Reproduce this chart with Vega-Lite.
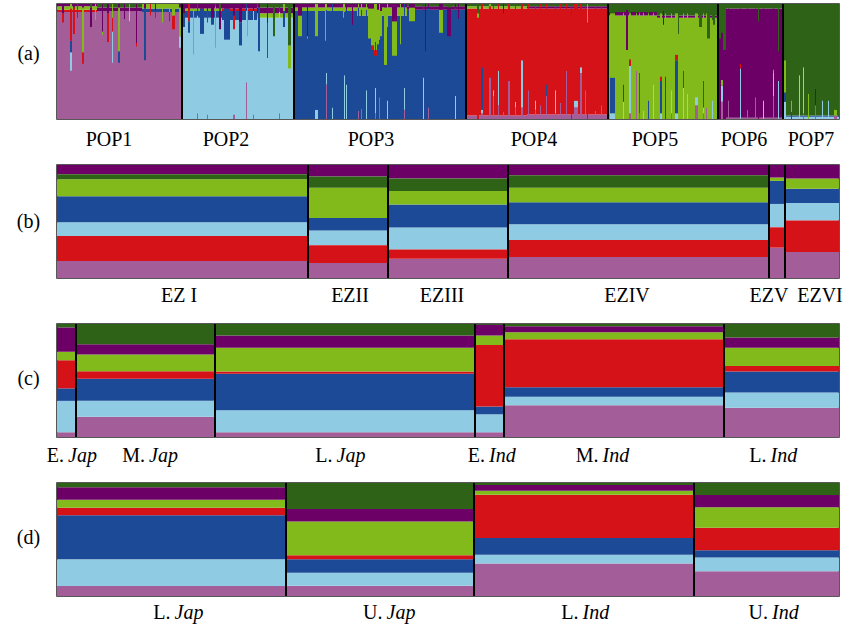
{
"$schema": "https://vega.github.io/schema/vega-lite/v6.json",
"padding": {"left": 15, "top": 2, "right": 4, "bottom": 4},
"background": "white",
"bounds": "flush",
"spacing": 46,
"config": {"view": {"stroke": "#222", "strokeWidth": 1.5}},
"datasets": {
"pops": [
{"p":"POP1","x":0,"x2":125,"lx":52},
{"p":"POP2","x":125,"x2":237,"lx":169},
{"p":"POP3","x":237,"x2":409,"lx":314},
{"p":"POP4","x":409,"x2":551,"lx":477},
{"p":"POP5","x":551,"x2":661,"lx":598},
{"p":"POP6","x":661,"x2":726,"lx":687},
{"p":"POP7","x":726,"x2":782,"lx":754}
],
"a_base": [
{"x":0,"x2":40,"K1":0.93,"K4":0.02,"K5":0.03,"K6":0.02},
{"x":40,"x2":85,"K1":0.94,"K6":0.03,"K7":0.03},
{"x":85,"x2":125,"K1":0.93,"K3":0.03,"K5":0.04},
{"x":125,"x2":165,"K2":0.88,"K3":0.06,"K5":0.02,"K6":0.04},
{"x":165,"x2":200,"K2":0.86,"K3":0.08,"K4":0.02,"K6":0.04},
{"x":200,"x2":237,"K2":0.88,"K5":0.04,"K6":0.05,"K7":0.03},
{"x":237,"x2":300,"K3":0.94,"K5":0.03,"K6":0.03},
{"x":300,"x2":350,"K3":0.90,"K5":0.07,"K6":0.03},
{"x":350,"x2":409,"K3":0.95,"K6":0.03,"K7":0.02},
{"x":409,"x2":470,"K1":0.03,"K4":0.93,"K5":0.02,"K7":0.02},
{"x":470,"x2":551,"K1":0.04,"K4":0.92,"K6":0.02,"K7":0.02},
{"x":551,"x2":600,"K5":0.90,"K6":0.03,"K7":0.07},
{"x":600,"x2":661,"K5":0.88,"K6":0.02,"K7":0.10},
{"x":661,"x2":726,"K1":0.01,"K6":0.95,"K7":0.04},
{"x":726,"x2":782,"K2":0.02,"K3":0.01,"K7":0.97}
],
"a_ind": [
{"x":5,"x2":7,"K1":0.84,"K4":0.08,"K6":0.08},
{"x":13,"x2":15,"K1":0.42,"K2":0.16,"K3":0.10,"K4":0.28,"K5":0.04},
{"x":16,"x2":18,"K1":0.74,"K4":0.23,"K6":0.03},
{"x":20,"x2":21,"K1":0.88,"K7":0.12},
{"x":25,"x2":27,"K1":0.48,"K4":0.10,"K5":0.39,"K6":0.03},
{"x":33,"x2":35,"K1":0.80,"K6":0.17,"K7":0.03},
{"x":38,"x2":39,"K1":0.86,"K5":0.14},
{"x":45,"x2":46,"K1":0.73,"K5":0.03,"K6":0.24},
{"x":50,"x2":52,"K1":0.67,"K4":0.25,"K6":0.08},
{"x":55,"x2":56,"K1":0.49,"K2":0.27,"K4":0.12,"K5":0.12},
{"x":61,"x2":63,"K1":0.49,"K3":0.10,"K5":0.38,"K6":0.03},
{"x":67,"x2":68,"K1":0.87,"K6":0.13},
{"x":72,"x2":73,"K1":0.85,"K2":0.08,"K5":0.07},
{"x":79,"x2":80,"K1":0.63,"K4":0.03,"K6":0.34},
{"x":87,"x2":89,"K1":0.51,"K3":0.45,"K6":0.04},
{"x":93,"x2":94,"K1":0.90,"K4":0.10},
{"x":98,"x2":99,"K1":0.88,"K4":0.06,"K6":0.06},
{"x":105,"x2":106,"K1":0.84,"K5":0.16},
{"x":112,"x2":113,"K1":0.85,"K3":0.08,"K5":0.07},
{"x":115,"x2":118,"K1":0.78,"K4":0.12,"K5":0.10},
{"x":122,"x2":124,"K1":0.62,"K2":0.10,"K5":0.25,"K6":0.03},
{"x":126,"x2":128,"K2":0.80,"K3":0.12,"K6":0.08},
{"x":131,"x2":133,"K2":0.75,"K3":0.10,"K4":0.15},
{"x":136,"x2":137,"K2":0.56,"K5":0.40,"K6":0.04},
{"x":140,"x2":141,"K1":0.05,"K2":0.85,"K3":0.10},
{"x":143,"x2":147,"K2":0.74,"K3":0.22,"K6":0.04},
{"x":150,"x2":151,"K1":0.04,"K2":0.80,"K4":0.10,"K6":0.06},
{"x":154,"x2":157,"K2":0.82,"K3":0.06,"K6":0.12},
{"x":158,"x2":159,"K2":0.62,"K5":0.36,"K7":0.02},
{"x":162,"x2":164,"K2":0.78,"K6":0.16,"K7":0.06},
{"x":167,"x2":173,"K2":0.69,"K3":0.27,"K6":0.04},
{"x":176,"x2":178,"K1":0.04,"K2":0.74,"K4":0.12,"K6":0.10},
{"x":182,"x2":185,"K2":0.64,"K3":0.20,"K6":0.16},
{"x":189,"x2":190,"K1":0.32,"K2":0.62,"K3":0.06},
{"x":190,"x2":191,"K2":0.72,"K5":0.25,"K6":0.03},
{"x":196,"x2":197,"K1":0.04,"K2":0.90,"K6":0.06},
{"x":201,"x2":203,"K2":0.59,"K3":0.38,"K6":0.03},
{"x":210,"x2":211,"K2":0.53,"K4":0.30,"K6":0.17},
{"x":216,"x2":218,"K2":0.72,"K7":0.28},
{"x":222,"x2":223,"K1":0.05,"K2":0.88,"K3":0.07},
{"x":226,"x2":228,"K2":0.80,"K3":0.14,"K5":0.06},
{"x":231,"x2":234,"K2":0.44,"K5":0.20,"K7":0.36},
{"x":241,"x2":245,"K3":0.72,"K5":0.18,"K6":0.10},
{"x":250,"x2":251,"K3":0.70,"K5":0.02,"K6":0.28},
{"x":258,"x2":261,"K2":0.08,"K3":0.64,"K5":0.28},
{"x":268,"x2":269,"K3":0.68,"K5":0.32},
{"x":269,"x2":270,"K1":0.30,"K2":0.10,"K3":0.55,"K5":0.05},
{"x":275,"x2":276,"K2":0.10,"K3":0.90},
{"x":286,"x2":287,"K3":0.88,"K5":0.12},
{"x":287,"x2":288,"K2":0.38,"K3":0.55,"K5":0.07},
{"x":289,"x2":290,"K2":0.30,"K3":0.65,"K6":0.05},
{"x":295,"x2":296,"K3":0.82,"K6":0.18},
{"x":301,"x2":302,"K1":0.07,"K3":0.90,"K5":0.03},
{"x":304,"x2":305,"K1":0.09,"K3":0.86,"K5":0.05},
{"x":309,"x2":310,"K2":0.25,"K3":0.70,"K5":0.05},
{"x":311,"x2":314,"K3":0.70,"K5":0.26,"K6":0.04},
{"x":314,"x2":317,"K3":0.60,"K4":0.04,"K5":0.32,"K6":0.04},
{"x":317,"x2":320,"K3":0.55,"K4":0.05,"K5":0.40},
{"x":318,"x2":319,"K1":0.05,"K2":0.22,"K3":0.40,"K5":0.33},
{"x":320,"x2":323,"K3":0.65,"K5":0.30,"K6":0.05},
{"x":322,"x2":323,"K1":0.19,"K3":0.50,"K5":0.31},
{"x":323,"x2":325,"K3":0.72,"K5":0.22,"K6":0.06},
{"x":327,"x2":330,"K3":0.47,"K5":0.50,"K6":0.03},
{"x":330,"x2":331,"K2":0.16,"K3":0.64,"K5":0.20},
{"x":335,"x2":340,"K3":0.55,"K5":0.30,"K6":0.15},
{"x":343,"x2":344,"K3":0.65,"K5":0.35},
{"x":347,"x2":348,"K1":0.08,"K2":0.19,"K3":0.73},
{"x":352,"x2":358,"K3":0.85,"K5":0.12,"K6":0.03},
{"x":366,"x2":367,"K2":0.36,"K3":0.64},
{"x":368,"x2":369,"K3":0.59,"K6":0.41},
{"x":371,"x2":372,"K1":0.10,"K3":0.87,"K6":0.03},
{"x":382,"x2":386,"K3":0.75,"K5":0.20,"K6":0.05},
{"x":390,"x2":394,"K3":0.72,"K6":0.25,"K7":0.03},
{"x":398,"x2":399,"K2":0.20,"K3":0.77,"K6":0.03},
{"x":401,"x2":402,"K3":0.87,"K6":0.13},
{"x":420,"x2":422,"K4":0.88,"K5":0.04,"K7":0.08},
{"x":424,"x2":426,"K1":0.05,"K2":0.03,"K3":0.37,"K4":0.55},
{"x":432,"x2":434,"K1":0.36,"K4":0.62,"K5":0.02},
{"x":436,"x2":437,"K1":0.20,"K2":0.05,"K4":0.75},
{"x":441,"x2":442,"K1":0.12,"K2":0.30,"K4":0.58},
{"x":446,"x2":447,"K1":0.06,"K4":0.86,"K6":0.08},
{"x":451,"x2":453,"K1":0.33,"K4":0.67},
{"x":458,"x2":459,"K1":0.10,"K2":0.05,"K4":0.85},
{"x":464,"x2":466,"K1":0.10,"K2":0.41,"K4":0.49},
{"x":471,"x2":472,"K1":0.25,"K4":0.75},
{"x":478,"x2":479,"K1":0.08,"K2":0.08,"K4":0.84},
{"x":483,"x2":484,"K1":0.12,"K4":0.88},
{"x":489,"x2":490,"K1":0.20,"K3":0.10,"K4":0.70},
{"x":498,"x2":499,"K1":0.05,"K2":0.20,"K4":0.75},
{"x":503,"x2":504,"K1":0.14,"K4":0.86},
{"x":509,"x2":510,"K1":0.42,"K4":0.58},
{"x":514,"x2":515,"K4":0.88,"K7":0.12},
{"x":517,"x2":521,"K1":0.10,"K2":0.06,"K4":0.84},
{"x":523,"x2":525,"K1":0.40,"K2":0.05,"K4":0.55},
{"x":528,"x2":529,"K1":0.25,"K4":0.75},
{"x":530,"x2":531,"K4":0.84,"K5":0.16},
{"x":538,"x2":539,"K1":0.07,"K4":0.93},
{"x":544,"x2":545,"K1":0.12,"K4":0.88},
{"x":553,"x2":558,"K2":0.05,"K3":0.31,"K5":0.56,"K7":0.08},
{"x":566,"x2":567,"K2":0.15,"K3":0.15,"K5":0.62,"K7":0.08},
{"x":569,"x2":571,"K5":0.60,"K6":0.35,"K7":0.05},
{"x":572,"x2":574,"K1":0.05,"K2":0.41,"K4":0.06,"K5":0.40,"K7":0.08},
{"x":579,"x2":580,"K1":0.42,"K5":0.50,"K7":0.08},
{"x":582,"x2":583,"K1":0.05,"K4":0.35,"K5":0.52,"K7":0.08},
{"x":586,"x2":587,"K2":0.07,"K5":0.85,"K7":0.08},
{"x":591,"x2":592,"K3":0.16,"K5":0.76,"K7":0.08},
{"x":596,"x2":597,"K2":0.30,"K5":0.62,"K7":0.08},
{"x":603,"x2":605,"K2":0.05,"K3":0.28,"K4":0.04,"K5":0.55,"K7":0.08},
{"x":606,"x2":607,"K5":0.82,"K6":0.12,"K7":0.06},
{"x":608,"x2":609,"K3":0.37,"K5":0.55,"K7":0.08},
{"x":614,"x2":615,"K1":0.05,"K2":0.20,"K5":0.67,"K7":0.08},
{"x":618,"x2":621,"K2":0.05,"K3":0.46,"K4":0.05,"K5":0.36,"K7":0.08},
{"x":621,"x2":622,"K5":0.74,"K7":0.26},
{"x":626,"x2":627,"K2":0.27,"K4":0.15,"K5":0.50,"K7":0.08},
{"x":630,"x2":631,"K2":0.22,"K5":0.70,"K7":0.08},
{"x":638,"x2":641,"K1":0.12,"K2":0.07,"K5":0.73,"K7":0.08},
{"x":642,"x2":645,"K5":0.80,"K7":0.20},
{"x":646,"x2":647,"K1":0.05,"K2":0.05,"K4":0.23,"K5":0.59,"K7":0.08},
{"x":649,"x2":650,"K1":0.10,"K5":0.82,"K7":0.08},
{"x":650,"x2":653,"K5":0.70,"K7":0.30},
{"x":655,"x2":656,"K2":0.16,"K5":0.70,"K7":0.14},
{"x":656,"x2":658,"K5":0.82,"K7":0.18},
{"x":662,"x2":664,"K6":0.70,"K7":0.30},
{"x":664,"x2":666,"K1":0.15,"K2":0.14,"K5":0.05,"K6":0.41,"K7":0.25},
{"x":666,"x2":669,"K6":0.60,"K7":0.40},
{"x":671,"x2":672,"K1":0.16,"K6":0.80,"K7":0.04},
{"x":683,"x2":684,"K2":0.44,"K4":0.04,"K6":0.48,"K7":0.04},
{"x":690,"x2":691,"K1":0.08,"K6":0.88,"K7":0.04},
{"x":698,"x2":699,"K1":0.19,"K6":0.77,"K7":0.04},
{"x":701,"x2":702,"K6":0.85,"K7":0.15},
{"x":706,"x2":707,"K2":0.16,"K6":0.80,"K7":0.04},
{"x":716,"x2":717,"K1":0.20,"K2":0.20,"K5":0.03,"K6":0.53,"K7":0.04},
{"x":721,"x2":722,"K2":0.33,"K6":0.26,"K7":0.41},
{"x":727,"x2":729,"K2":0.15,"K3":0.08,"K5":0.28,"K7":0.49},
{"x":734,"x2":735,"K3":0.06,"K5":0.10,"K7":0.84},
{"x":742,"x2":743,"K2":0.38,"K7":0.62},
{"x":746,"x2":747,"K1":0.05,"K2":0.40,"K7":0.55},
{"x":751,"x2":752,"K5":0.22,"K7":0.78},
{"x":758,"x2":759,"K1":0.12,"K6":0.14,"K7":0.74},
{"x":765,"x2":766,"K2":0.16,"K7":0.84},
{"x":771,"x2":772,"K2":0.16,"K7":0.84},
{"x":777,"x2":780,"K1":0.03,"K5":0.05,"K7":0.92}
],
"ordb": [
{"key":"K1","o":1},{"key":"K4","o":2},{"key":"K2","o":3},{"key":"K3","o":4},{"key":"K5","o":5},{"key":"K7","o":6},{"key":"K6","o":7}
],
"b": [
{"g":"EZ I","x":0,"x2":251,"lx":122,"K1":0.150,"K2":0.123,"K3":0.231,"K4":0.222,"K5":0.150,"K6":0.081,"K7":0.045},
{"g":"EZII","x":251,"x2":331,"lx":293,"K1":0.132,"K2":0.129,"K3":0.111,"K4":0.159,"K5":0.269,"K6":0.102,"K7":0.099},
{"g":"EZIII","x":331,"x2":451,"lx":385,"K1":0.171,"K2":0.195,"K3":0.204,"K4":0.081,"K5":0.120,"K6":0.120,"K7":0.111},
{"g":"EZIV","x":451,"x2":712,"lx":570,"K1":0.186,"K2":0.141,"K3":0.195,"K4":0.150,"K5":0.129,"K6":0.090,"K7":0.111},
{"g":"EZV","x":712,"x2":728,"lx":712,"K1":0.269,"K2":0.207,"K3":0.204,"K4":0.180,"K5":0.030,"K6":0.111},
{"g":"EZVI","x":728,"x2":782,"lx":763,"K1":0.230,"K2":0.156,"K3":0.126,"K4":0.278,"K5":0.090,"K6":0.120}
],
"c": [
{"pre":"E.","it":"Jap","x":0,"x2":19,"lx":9,"K1":0.042,"K2":0.278,"K3":0.111,"K4":0.249,"K5":0.075,"K6":0.216,"K7":0.030},
{"pre":"M.","it":"Jap","x":19,"x2":158,"lx":90,"K1":0.180,"K2":0.141,"K3":0.195,"K4":0.066,"K5":0.150,"K6":0.090,"K7":0.180},
{"pre":"L.","it":"Jap","x":158,"x2":418,"lx":277.5,"K1":0.042,"K2":0.195,"K3":0.323,"K4":0.021,"K5":0.210,"K6":0.108,"K7":0.102},
{"pre":"E.","it":"Ind","x":418,"x2":447,"lx":430,"K1":0.042,"K2":0.159,"K3":0.069,"K4":0.545,"K5":0.084,"K6":0.096,"K7":0.006},
{"pre":"M.","it":"Ind","x":447,"x2":667,"lx":543.5,"K1":0.281,"K2":0.075,"K3":0.084,"K4":0.425,"K5":0.063,"K6":0.051,"K7":0.021},
{"pre":"L.","it":"Ind","x":667,"x2":782,"lx":711.5,"K1":0.260,"K2":0.135,"K3":0.186,"K4":0.048,"K5":0.162,"K6":0.090,"K7":0.120}
],
"d": [
{"pre":"L.","it":"Jap","x":0,"x2":229,"lx":115.5,"K1":0.088,"K2":0.238,"K3":0.387,"K4":0.067,"K5":0.070,"K6":0.111,"K7":0.038},
{"pre":"U.","it":"Jap","x":229,"x2":417,"lx":327.5,"K1":0.091,"K2":0.114,"K3":0.120,"K4":0.035,"K5":0.299,"K6":0.111,"K7":0.229},
{"pre":"L.","it":"Ind","x":417,"x2":637,"lx":523.5,"K1":0.287,"K2":0.079,"K3":0.147,"K4":0.384,"K5":0.035,"K6":0.050,"K7":0.018},
{"pre":"U.","it":"Ind","x":637,"x2":782,"lx":713,"K1":0.220,"K2":0.120,"K3":0.065,"K4":0.199,"K5":0.182,"K6":0.109,"K7":0.106}
]
},
"vconcat": [
{
"width": 782, "height": 115,
"layer": [
{"data": {"name": "a_base"},
 "transform": [{"fold": ["K1","K2","K3","K4","K5","K6","K7"]}, {"filter": "datum.value > 0"},
  {"stack": "value", "groupby": ["x","x2"], "sort": [{"field": "key", "order": "ascending"}], "offset": "normalize", "as": ["y0","y1"]}],
 "mark": {"type": "rect"},
 "encoding": {
  "x": {"field": "x", "type": "quantitative", "scale": {"domain": [0,782], "nice": false, "zero": false}, "axis": null},
  "x2": {"field": "x2"},
  "y": {"field": "y0", "type": "quantitative", "scale": {"domain": [0,1], "nice": false}, "axis": {"title": "(a)", "titleAngle": 0, "titleX": -29, "titleY": 49, "titleAlign": "center", "titleBaseline": "middle", "titleFont": "Liberation Serif, DejaVu Serif, serif", "titleFontSize": 20, "titleFontWeight": "normal", "titleColor": "#000", "labels": false, "ticks": false, "domain": false, "grid": false}},
  "y2": {"field": "y1"},
  "color": {"field": "key", "type": "nominal", "scale": {"domain": ["K1","K2","K3","K4","K5","K6","K7"], "range": ["#A35E99","#8FCCE3","#1D4A97","#D51218","#82BA1C","#6C0066","#2E6216"]}, "legend": null}
 }},
{"data": {"name": "a_ind"},
 "transform": [{"fold": ["K1","K2","K3","K4","K5","K6","K7"]}, {"filter": "datum.value > 0"},
  {"stack": "value", "groupby": ["x","x2"], "sort": [{"field": "key", "order": "ascending"}], "offset": "normalize", "as": ["y0","y1"]}],
 "mark": {"type": "rect"},
 "encoding": {
  "x": {"field": "x", "type": "quantitative"},
  "x2": {"field": "x2"},
  "y": {"field": "y0", "type": "quantitative"},
  "y2": {"field": "y1"},
  "color": {"field": "key", "type": "nominal", "legend": null}
 }},
{"data": {"name": "pops"}, "transform": [{"filter": "datum.x > 0"}],
 "mark": {"type": "rule", "color": "#000", "strokeWidth": 2},
 "encoding": {"x": {"field": "x", "type": "quantitative"}}},
{"data": {"name": "pops"},
 "mark": {"type": "text", "font": "Liberation Serif, DejaVu Serif, serif", "fontSize": 20, "baseline": "alphabetic", "align": "center", "dy": 27, "color": "#000"},
 "encoding": {"x": {"field": "lx", "type": "quantitative"}, "y": {"datum": 0, "type": "quantitative"}, "text": {"field": "p"}}}
]
},
{
"width": 782, "height": 113,
"layer": [
{"data": {"name": "b"},
 "transform": [{"fold": ["K1","K2","K3","K4","K5","K6","K7"]}, {"filter": "datum.value > 0"},
  {"lookup": "key", "from": {"data": {"name": "ordb"}, "key": "key", "fields": ["o"]}},
  {"stack": "value", "groupby": ["x"], "sort": [{"field": "o", "order": "ascending"}], "offset": "normalize", "as": ["y0","y1"]}],
 "mark": {"type": "rect"},
 "encoding": {
  "x": {"field": "x", "type": "quantitative", "scale": {"domain": [0,782], "nice": false, "zero": false}, "axis": null},
  "x2": {"field": "x2"},
  "y": {"field": "y0", "type": "quantitative", "scale": {"domain": [0,1], "nice": false}, "axis": {"title": "(b)", "titleAngle": 0, "titleX": -29, "titleY": 56, "titleAlign": "center", "titleBaseline": "middle", "titleFont": "Liberation Serif, DejaVu Serif, serif", "titleFontSize": 20, "titleFontWeight": "normal", "titleColor": "#000", "labels": false, "ticks": false, "domain": false, "grid": false}},
  "y2": {"field": "y1"},
  "color": {"field": "key", "type": "nominal", "scale": {"domain": ["K1","K2","K3","K4","K5","K6","K7"], "range": ["#A35E99","#8FCCE3","#1D4A97","#D51218","#82BA1C","#6C0066","#2E6216"]}, "legend": null}
 }},
{"data": {"name": "b"}, "transform": [{"filter": "datum.x > 0"}],
 "mark": {"type": "rule", "color": "#000", "strokeWidth": 2},
 "encoding": {"x": {"field": "x", "type": "quantitative"}}},
{"data": {"name": "b"},
 "mark": {"type": "text", "font": "Liberation Serif, DejaVu Serif, serif", "fontSize": 20, "baseline": "alphabetic", "align": "center", "dy": 24, "color": "#000"},
 "encoding": {"x": {"field": "lx", "type": "quantitative"}, "y": {"datum": 0, "type": "quantitative"}, "text": {"field": "g"}}}
]
},
{
"width": 782, "height": 113,
"layer": [
{"data": {"name": "c"},
 "transform": [{"fold": ["K1","K2","K3","K4","K5","K6","K7"]}, {"filter": "datum.value > 0"},
  {"stack": "value", "groupby": ["x"], "sort": [{"field": "key", "order": "ascending"}], "offset": "normalize", "as": ["y0","y1"]}],
 "mark": {"type": "rect"},
 "encoding": {
  "x": {"field": "x", "type": "quantitative", "scale": {"domain": [0,782], "nice": false, "zero": false}, "axis": null},
  "x2": {"field": "x2"},
  "y": {"field": "y0", "type": "quantitative", "scale": {"domain": [0,1], "nice": false}, "axis": {"title": "(c)", "titleAngle": 0, "titleX": -29, "titleY": 54, "titleAlign": "center", "titleBaseline": "middle", "titleFont": "Liberation Serif, DejaVu Serif, serif", "titleFontSize": 20, "titleFontWeight": "normal", "titleColor": "#000", "labels": false, "ticks": false, "domain": false, "grid": false}},
  "y2": {"field": "y1"},
  "color": {"field": "key", "type": "nominal", "scale": {"domain": ["K1","K2","K3","K4","K5","K6","K7"], "range": ["#A35E99","#8FCCE3","#1D4A97","#D51218","#82BA1C","#6C0066","#2E6216"]}, "legend": null}
 }},
{"data": {"name": "c"}, "transform": [{"filter": "datum.x > 0"}],
 "mark": {"type": "rule", "color": "#000", "strokeWidth": 2},
 "encoding": {"x": {"field": "x", "type": "quantitative"}}},
{"data": {"name": "c"},
 "mark": {"type": "text", "font": "Liberation Serif, DejaVu Serif, serif", "fontSize": 20, "baseline": "alphabetic", "align": "right", "dx": -2, "dy": 25, "color": "#000"},
 "encoding": {"x": {"field": "lx", "type": "quantitative"}, "y": {"datum": 0, "type": "quantitative"}, "text": {"field": "pre"}}},
{"data": {"name": "c"},
 "mark": {"type": "text", "font": "Liberation Serif, DejaVu Serif, serif", "fontSize": 20, "fontStyle": "italic", "baseline": "alphabetic", "align": "left", "dx": 2, "dy": 25, "color": "#000"},
 "encoding": {"x": {"field": "lx", "type": "quantitative"}, "y": {"datum": 0, "type": "quantitative"}, "text": {"field": "it"}}}
]
},
{
"width": 782, "height": 113,
"layer": [
{"data": {"name": "d"},
 "transform": [{"fold": ["K1","K2","K3","K4","K5","K6","K7"]}, {"filter": "datum.value > 0"},
  {"stack": "value", "groupby": ["x"], "sort": [{"field": "key", "order": "ascending"}], "offset": "normalize", "as": ["y0","y1"]}],
 "mark": {"type": "rect"},
 "encoding": {
  "x": {"field": "x", "type": "quantitative", "scale": {"domain": [0,782], "nice": false, "zero": false}, "axis": null},
  "x2": {"field": "x2"},
  "y": {"field": "y0", "type": "quantitative", "scale": {"domain": [0,1], "nice": false}, "axis": {"title": "(d)", "titleAngle": 0, "titleX": -29, "titleY": 54, "titleAlign": "center", "titleBaseline": "middle", "titleFont": "Liberation Serif, DejaVu Serif, serif", "titleFontSize": 20, "titleFontWeight": "normal", "titleColor": "#000", "labels": false, "ticks": false, "domain": false, "grid": false}},
  "y2": {"field": "y1"},
  "color": {"field": "key", "type": "nominal", "scale": {"domain": ["K1","K2","K3","K4","K5","K6","K7"], "range": ["#A35E99","#8FCCE3","#1D4A97","#D51218","#82BA1C","#6C0066","#2E6216"]}, "legend": null}
 }},
{"data": {"name": "d"}, "transform": [{"filter": "datum.x > 0"}],
 "mark": {"type": "rule", "color": "#000", "strokeWidth": 2},
 "encoding": {"x": {"field": "x", "type": "quantitative"}}},
{"data": {"name": "d"},
 "mark": {"type": "text", "font": "Liberation Serif, DejaVu Serif, serif", "fontSize": 20, "baseline": "alphabetic", "align": "right", "dx": -2, "dy": 23, "color": "#000"},
 "encoding": {"x": {"field": "lx", "type": "quantitative"}, "y": {"datum": 0, "type": "quantitative"}, "text": {"field": "pre"}}},
{"data": {"name": "d"},
 "mark": {"type": "text", "font": "Liberation Serif, DejaVu Serif, serif", "fontSize": 20, "fontStyle": "italic", "baseline": "alphabetic", "align": "left", "dx": 2, "dy": 23, "color": "#000"},
 "encoding": {"x": {"field": "lx", "type": "quantitative"}, "y": {"datum": 0, "type": "quantitative"}, "text": {"field": "it"}}}
]
}
]
}
